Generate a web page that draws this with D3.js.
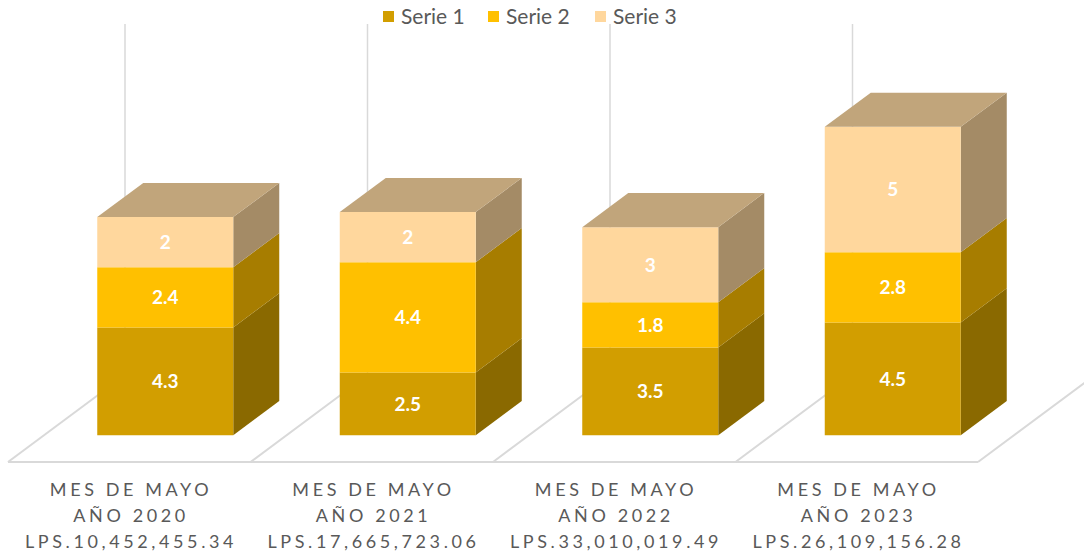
<!DOCTYPE html>
<html>
<head>
<meta charset="utf-8">
<script src="https://cdn.jsdelivr.net/npm/d3@7"></script>
<style>
  body { margin: 0; background: #fff; }
  svg { display: block; font-family: Lato, "Open Sans", sans-serif; }
</style>
</head>
<body>
<svg id="drawing_region"></svg>
<script>
// chart data
const categories = ['2020', '2021', '2022', '2023'];
const amounts = ['LPS.10,452,455.34', 'LPS.17,665,723.06', 'LPS.33,010,019.49', 'LPS.26,109,156.28'];
const seriesNames = ['Serie 1', 'Serie 2', 'Serie 3'];
const serie1 = [4.3, 2.5, 3.5, 4.5];
const serie2 = [2.4, 4.4, 1.8, 2.8];
const serie3 = [2, 2, 3, 5];
const yMax = 14;

const colors = {
    front: ['#d29e00', '#ffc000', '#ffd79d'],
    side:  ['#8a6900', '#a77d00', '#a48b66'],
    top:   ['#b58e2e', '#c5a13a', '#c1a57b']
};

const config = {
    width: 1084,
    height: 554,
    floorY: 462,
    floorLeft: 8,
    floorRight: 978,
    depthX: 117,
    depthY: 87,
    barWidth: 136,
    z0: 36 / 117,
    z1: 82 / 117
};

const svg = d3.select('#drawing_region')
    .attr('width', config.width)
    .attr('height', config.height);

const xscale = d3.scaleBand()
    .domain(categories)
    .range([config.floorLeft, config.floorRight])
    .padding(0);

const yscale = d3.scaleLinear()
    .domain([0, yMax])
    .range([0, 351]);

// project (x, value, depth fraction) to screen
function proj(x, v, z) {
    return [x + z * config.depthX, config.floorY - z * config.depthY - yscale(v)];
}
const poly = pts => pts.map(p => p.join(',')).join(' ');

// floor
const floor = svg.append('g')
    .attr('stroke', '#d9d9d9')
    .attr('stroke-width', 2)
    .attr('fill', 'none');

floor.append('line')
    .attr('x1', config.floorLeft).attr('y1', config.floorY)
    .attr('x2', config.floorRight).attr('y2', config.floorY);

const bounds = categories.map(c => xscale(c)).concat([config.floorRight]);

floor.selectAll('line.diag')
    .data(bounds)
    .join('line')
    .attr('class', 'diag')
    .attr('x1', d => d).attr('y1', config.floorY)
    .attr('x2', d => proj(d, 0, 1)[0]).attr('y2', d => proj(d, 0, 1)[1]);

// back gridlines
svg.append('g')
    .selectAll('line')
    .data(bounds)
    .join('line')
    .attr('x1', d => proj(d, 0, 1)[0]).attr('y1', d => proj(d, 0, 1)[1])
    .attr('x2', d => proj(d, yMax, 1)[0]).attr('y2', d => proj(d, yMax, 1)[1])
    .attr('stroke', '#d9d9d9')
    .attr('stroke-width', 1.5);

// stacked 3D bars
const table = categories.map((c, i) => ({ cat: c, values: [serie1[i], serie2[i], serie3[i]] }));
const stack = d3.stack().keys([0, 1, 2]).value((d, k) => d.values[k]);
const layers = stack(table);

const bars = svg.append('g');
table.forEach((d, i) => {
    const x0 = xscale(d.cat) + (xscale.bandwidth() - config.barWidth) / 2;
    const x1 = x0 + config.barWidth;
    const g = bars.append('g');
    layers.forEach((layer, k) => {
        const lo = layer[i][0], hi = layer[i][1];
        // side face
        g.append('polygon')
            .attr('points', poly([proj(x1, lo, config.z0), proj(x1, lo, config.z1), proj(x1, hi, config.z1), proj(x1, hi, config.z0)]))
            .attr('fill', colors.side[k]);
        // front face
        g.append('polygon')
            .attr('points', poly([proj(x0, lo, config.z0), proj(x1, lo, config.z0), proj(x1, hi, config.z0), proj(x0, hi, config.z0)]))
            .attr('fill', colors.front[k]);
        const mid = proj((x0 + x1) / 2, (lo + hi) / 2, config.z0);
        g.append('text')
            .attr('x', mid[0])
            .attr('y', mid[1])
            .attr('dy', '0.36em')
            .attr('text-anchor', 'middle')
            .attr('fill', '#fff')
            .attr('font-weight', 'bold')
            .attr('font-size', 19)
            .text(d.values[k]);
        if (k === layers.length - 1) {
            g.append('polygon')
                .attr('points', poly([proj(x0, hi, config.z0), proj(x1, hi, config.z0), proj(x1, hi, config.z1), proj(x0, hi, config.z1)]))
                .attr('fill', colors.top[k]);
        }
    });
});

// category labels
const ls = 3.6;
const labels = svg.append('g')
    .attr('fill', '#595959')
    .attr('font-size', 18)
    .attr('letter-spacing', ls)
    .attr('text-anchor', 'middle');

table.forEach((d, i) => {
    const cx = xscale(d.cat) + xscale.bandwidth() / 2 + ls / 2;
    const lines = ['MES DE MAYO', 'AÑO ' + d.cat, amounts[i]];
    lines.forEach((t, j) => {
        labels.append('text')
            .attr('x', cx)
            .attr('y', 496 + j * 26)
            .text(t);
    });
});

// legend
const legendX = [383, 488, 595];
const legend = svg.append('g');
seriesNames.forEach((s, k) => {
    legend.append('rect')
        .attr('x', legendX[k]).attr('y', 11)
        .attr('width', 11).attr('height', 11)
        .attr('fill', colors.front[k]);
    legend.append('text')
        .attr('x', legendX[k] + 18).attr('y', 24)
        .attr('fill', '#595959')
        .attr('font-size', 21)
        .text(s);
});
</script>
</body>
</html>
